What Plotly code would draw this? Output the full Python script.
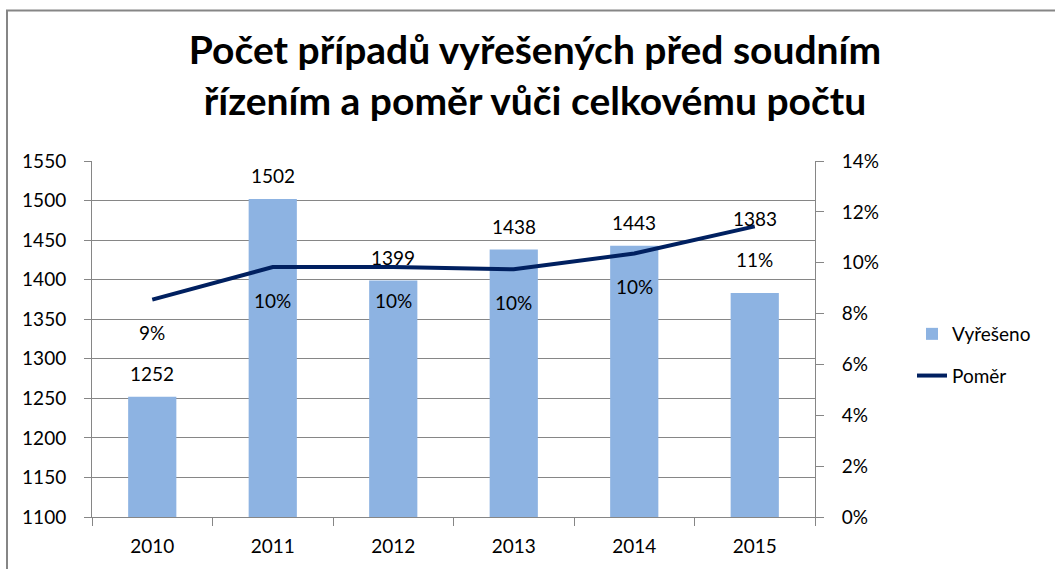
import plotly.graph_objects as go

years = ["2010", "2011", "2012", "2013", "2014", "2015"]
vyreseno = [1252, 1502, 1399, 1438, 1443, 1383]
pomer = [0.0855, 0.0983, 0.0983, 0.0974, 0.1036, 0.1143]
bar_label_shift = [23, 23, 23, 23, 23, 75]

title_text = "Počet případů vyřešených před soudním<br>řízením a poměr vůči celkovému počtu"

FONT = "Lato"
W, H = 1055, 569
L, R, T, B = 92, 240, 161, 52
pw, ph = W - L - R, H - T - B

fig = go.Figure()
fig.add_trace(go.Bar(
    x=years, y=vyreseno, name="Vyřešeno",
    marker=dict(color="#8DB3E2", line=dict(width=0)),
    yaxis="y", legendgroup="a",
))
fig.add_trace(go.Scatter(
    x=years, y=pomer, name="Poměr", mode="lines",
    line=dict(color="#002060", width=4),
    yaxis="y2", legendgroup="b",
))

annotations = []
for i, (v, s) in enumerate(zip(vyreseno, bar_label_shift)):
    annotations.append(dict(x=i, y=v, xref="x", yref="y", text=str(v),
                            showarrow=False, yshift=s,
                            font=dict(family=FONT, size=19, color="#000")))
for i, p in enumerate(pomer):
    annotations.append(dict(x=i, y=p, xref="x", yref="y2", text=f"{p:.0%}",
                            showarrow=False, yshift=-33,
                            font=dict(family=FONT, size=19, color="#000")))

# outer frame
bx0 = (7 - L) / pw
by1 = 1 + (T - 10.5) / ph
fig.add_shape(type="rect", xref="paper", yref="paper",
              x0=bx0, x1=(W + 20 - L) / pw, y0=-(B + 20) / ph, y1=by1,
              line=dict(color="#868686", width=2), fillcolor="rgba(0,0,0,0)",
              layer="below")

fig.update_layout(
    width=W, height=H,
    margin=dict(l=L, r=R, t=T, b=B, autoexpand=False),
    paper_bgcolor="white", plot_bgcolor="white",
    font=dict(family=FONT, size=19, color="#000"),
    title=dict(text=title_text, x=535 / W, xanchor="center",
               y=1 - 64 / H, yanchor="middle",
               font=dict(family=FONT, size=39, color="#000", weight="bold")),
    bargap=0.6,
    showlegend=True,
    legend=dict(x=(912 - L) / pw, y=(H - B - 355) / ph, xanchor="left", yanchor="middle",
                font=dict(family=FONT, size=19), tracegroupgap=14,
                bgcolor="rgba(0,0,0,0)"),
    xaxis=dict(type="category", range=[-0.5, 5.5], showgrid=False, showline=True,
               linecolor="#868686", linewidth=1, ticks="outside", tickson="boundaries",
               ticklen=8, tickcolor="#868686", ticklabelstandoff=12,
               automargin=False, tickangle=0),
    yaxis=dict(range=[1100, 1550], dtick=50, showgrid=True, gridcolor="#868686",
               gridwidth=1, showline=True, linecolor="#868686", ticks="outside",
               ticklen=7, tickcolor="#868686", ticklabelstandoff=14, zeroline=False,
               automargin=False),
    yaxis2=dict(range=[0, 0.14], dtick=0.02, tickformat=".0%", overlaying="y",
                side="right", showgrid=False, showline=True, linecolor="#868686",
                ticks="outside", ticklen=8, tickcolor="#868686",
                ticklabelstandoff=14, zeroline=False, automargin=False),
    annotations=annotations,
)

fig.write_html("out.html", config={"displayModeBar": False},
               post_script="document.body.style.margin='0';document.body.style.overflow='hidden';")
